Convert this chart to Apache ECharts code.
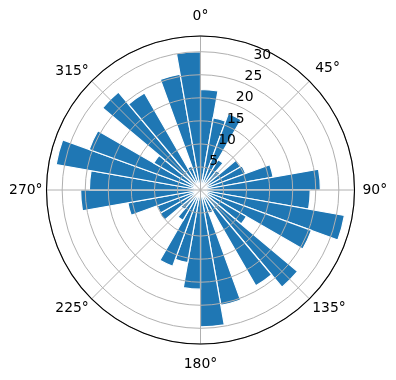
<!DOCTYPE html>
<html>
<head>
<meta charset="utf-8">
<script src="https://cdn.jsdelivr.net/npm/echarts@6/dist/echarts.min.js"></script>
<style>
  html, body { margin: 0; padding: 0; background: #fff; }
  #chart { width: 396px; height: 380px; }
</style>
</head>
<body>
<div id="chart"></div>
<script>
// 36 sectors of 10 degrees, clockwise from north
var sectors = [];
for (var i = 0; i < 36; i++) sectors.push(String(i * 10));

var counts = [
  21.8, 15.9, 17.6, 7.6, 5.5, 10.0, 10.4, 16.0, 26.0,
  23.8, 31.7, 25.6, 11.5, 27.5, 24.0, 5.4, 25.4, 29.7,
  21.5, 16.0, 17.6, 7.6, 5.5, 10.2, 10.0, 16.0, 26.0,
  24.1, 31.8, 25.7, 11.7, 27.7, 24.3, 5.5, 25.5, 30.0
];

var radialTicks = [5, 10, 15, 20, 25, 30];
var angleTicks = [0, 45, 90, 135, 180, 225, 270, 315];
var rMax = 33.4;

var font = 'DejaVu Sans';
var gridColor = '#b0b0b0';
var center = [200.5, 190];
var radius = 154;

var labelKey = { 0: 'n', 180: 's', 90: 'e', 270: 'w', 45: 'ne' };

var myChart = echarts.init(document.getElementById('chart'), null, { renderer: 'canvas' });

var option = {
  animation: false,
  backgroundColor: '#fff',
  polar: [
    { center: center, radius: radius },
    { center: center, radius: radius },
    { center: center, radius: radius }
  ],
  angleAxis: [
    {
      polarIndex: 0,
      type: 'category',
      data: sectors,
      startAngle: 90,
      clockwise: true,
      boundaryGap: true,
      axisLine: { show: false },
      axisTick: { show: false },
      axisLabel: { show: false },
      splitLine: { show: false }
    },
    {
      polarIndex: 1,
      type: 'value',
      min: 0,
      max: 360,
      interval: 45,
      startAngle: 90,
      clockwise: true,
      z: 10,
      axisLine: { show: true, lineStyle: { color: '#000', width: 1.1 } },
      axisTick: { show: false },
      splitLine: { show: true, lineStyle: { color: gridColor, width: 1 } },
      axisLabel: {
        margin: 4,
        color: '#000',
        fontFamily: font,
        fontSize: 13.9,
        formatter: function (v) {
          if (angleTicks.indexOf(v) < 0) return '';
          var k = labelKey[v] || 'd';
          return '{' + k + '|' + v + '°}';
        },
        rich: {
          n: { fontFamily: font, fontSize: 13.9, color: '#000', padding: [0, 0, 9, 0] },
          s: { fontFamily: font, fontSize: 13.9, color: '#000', padding: [9, 0, 0, 0] },
          e: { fontFamily: font, fontSize: 13.9, color: '#000', padding: [0, 0, 0, 4] },
          w: { fontFamily: font, fontSize: 13.9, color: '#000' },
          ne: { fontFamily: font, fontSize: 13.9, color: '#000', padding: [0, 0, 3, 3] },
          d: { fontFamily: font, fontSize: 13.9, color: '#000' }
        }
      }
    },
    {
      polarIndex: 2,
      type: 'value',
      min: 0,
      max: 360,
      startAngle: 67.5,
      clockwise: true,
      show: false
    }
  ],
  radiusAxis: [
    {
      polarIndex: 0,
      type: 'value',
      min: 0,
      max: rMax,
      axisLine: { show: false },
      axisTick: { show: false },
      axisLabel: { show: false },
      splitLine: { show: false }
    },
    {
      polarIndex: 1,
      type: 'value',
      min: 0,
      max: rMax,
      interval: 5,
      z: 9,
      axisLine: { show: false },
      axisTick: { show: false },
      axisLabel: { show: false },
      splitLine: { show: true, lineStyle: { color: gridColor, width: 1 } }
    },
    {
      polarIndex: 2,
      type: 'value',
      min: 0,
      max: rMax,
      interval: 5,
      z: 11,
      axisLine: { show: false },
      axisTick: { show: false },
      splitLine: { show: false },
      axisLabel: {
        margin: 0,
        align: 'left',
        verticalAlign: 'bottom',
        color: '#000',
        fontFamily: font,
        fontSize: 13.9,
        formatter: function (v) {
          return radialTicks.indexOf(v) >= 0 ? String(v) : '';
        }
      }
    }
  ],
  series: [
    {
      type: 'bar',
      coordinateSystem: 'polar',
      polarIndex: 0,
      barCategoryGap: '0%',
      z: 2,
      itemStyle: { color: '#1f77b4', borderColor: '#fff', borderWidth: 1.2 },
      data: counts
    }
  ]
};

myChart.setOption(option);
</script>
</body>
</html>
